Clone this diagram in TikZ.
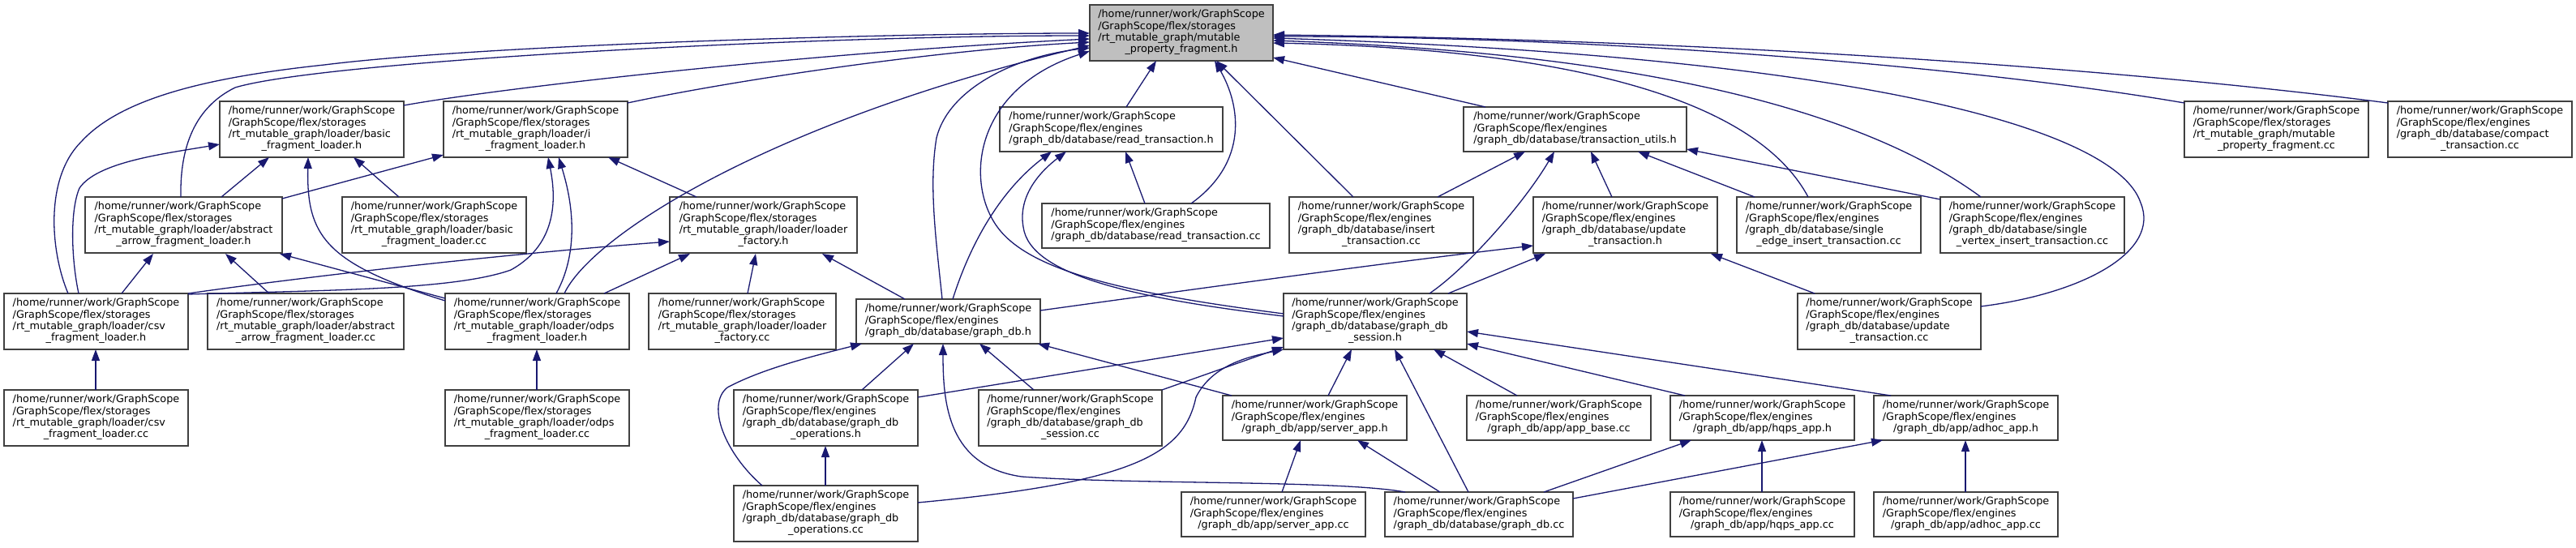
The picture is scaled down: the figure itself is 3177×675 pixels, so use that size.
\documentclass[tikz,border=0pt]{standalone}
\usepackage{fontspec}
\setmainfont{DejaVu Sans}
\usetikzlibrary{arrows.meta,calc}
\definecolor{edgec}{HTML}{191970}
\definecolor{rootc}{HTML}{BFBFBF}
\definecolor{bordc}{HTML}{404040}
\newcommand{\lbl}[2]{\begin{tabular}{@{}l@{}}#1\\\multicolumn{1}{@{}c@{}}{#2}\end{tabular}}
\tikzset{
  box/.style={draw=bordc, line width=1.4pt, fill=white, inner sep=0pt, outer sep=0pt, anchor=north west, minimum height=69pt},
  boxthree/.style={box, minimum height=55pt},
  dep/.style={draw=edgec, line width=1.3pt, -{Triangle[length=14pt,width=10pt]}}
}
\begin{document}
\begin{tikzpicture}[x=1pt,y=-1pt,font=\fontsize{12.8}{14.4}\selectfont]
\fill[white] (0,0) rectangle (3177,675);
\path[use as bounding box] (0,0) rectangle (3177,675);
% ---------- nodes ----------
\node[box, fill=rootc, minimum width=226pt] (root) at (1344,6) {\lbl{/home/runner/work/GraphScope\\/GraphScope/flex/storages\\/rt\_mutable\_graph/mutable}{\_property\_fragment.h}};
\node[box, minimum width=227pt] (basich) at (271,125) {\lbl{/home/runner/work/GraphScope\\/GraphScope/flex/storages\\/rt\_mutable\_graph/loader/basic}{\_fragment\_loader.h}};
\node[box, minimum width=227pt] (ifrag) at (547,125) {\lbl{/home/runner/work/GraphScope\\/GraphScope/flex/storages\\/rt\_mutable\_graph/loader/i}{\_fragment\_loader.h}};
\node[boxthree, minimum width=275pt] (readh) at (1233,132) {\lbl{/home/runner/work/GraphScope\\/GraphScope/flex/engines}{/graph\_db/database/read\_transaction.h}};
\node[boxthree, minimum width=275pt] (tutils) at (1805,132) {\lbl{/home/runner/work/GraphScope\\/GraphScope/flex/engines}{/graph\_db/database/transaction\_utils.h}};
\node[box, minimum width=227pt] (mpfcc) at (2694,125) {\lbl{/home/runner/work/GraphScope\\/GraphScope/flex/storages\\/rt\_mutable\_graph/mutable}{\_property\_fragment.cc}};
\node[box, minimum width=227pt] (compact) at (2945,125) {\lbl{/home/runner/work/GraphScope\\/GraphScope/flex/engines\\/graph\_db/database/compact}{\_transaction.cc}};
\node[box, minimum width=243pt] (absh) at (105,243) {\lbl{/home/runner/work/GraphScope\\/GraphScope/flex/storages\\/rt\_mutable\_graph/loader/abstract}{\_arrow\_fragment\_loader.h}};
\node[box, minimum width=227pt] (basiccc) at (422,243) {\lbl{/home/runner/work/GraphScope\\/GraphScope/flex/storages\\/rt\_mutable\_graph/loader/basic}{\_fragment\_loader.cc}};
\node[box, minimum width=231pt] (lfh) at (826,243) {\lbl{/home/runner/work/GraphScope\\/GraphScope/flex/storages\\/rt\_mutable\_graph/loader/loader}{\_factory.h}};
\node[boxthree, minimum width=281pt] (readcc) at (1285,251) {\lbl{/home/runner/work/GraphScope\\/GraphScope/flex/engines}{/graph\_db/database/read\_transaction.cc}};
\node[box, minimum width=227pt] (insertcc) at (1590,243) {\lbl{/home/runner/work/GraphScope\\/GraphScope/flex/engines\\/graph\_db/database/insert}{\_transaction.cc}};
\node[box, minimum width=227pt] (updh) at (1891,243) {\lbl{/home/runner/work/GraphScope\\/GraphScope/flex/engines\\/graph\_db/database/update}{\_transaction.h}};
\node[box, minimum width=227pt] (sedge) at (2142,243) {\lbl{/home/runner/work/GraphScope\\/GraphScope/flex/engines\\/graph\_db/database/single}{\_edge\_insert\_transaction.cc}};
\node[box, minimum width=227pt] (svertex) at (2393,243) {\lbl{/home/runner/work/GraphScope\\/GraphScope/flex/engines\\/graph\_db/database/single}{\_vertex\_insert\_transaction.cc}};
\node[box, minimum width=227pt] (csvh) at (5,362) {\lbl{/home/runner/work/GraphScope\\/GraphScope/flex/storages\\/rt\_mutable\_graph/loader/csv}{\_fragment\_loader.h}};
\node[box, minimum width=242pt] (abscc) at (256,362) {\lbl{/home/runner/work/GraphScope\\/GraphScope/flex/storages\\/rt\_mutable\_graph/loader/abstract}{\_arrow\_fragment\_loader.cc}};
\node[box, minimum width=227pt] (odpsh) at (549,362) {\lbl{/home/runner/work/GraphScope\\/GraphScope/flex/storages\\/rt\_mutable\_graph/loader/odps}{\_fragment\_loader.h}};
\node[box, minimum width=231pt] (lfcc) at (800,362) {\lbl{/home/runner/work/GraphScope\\/GraphScope/flex/storages\\/rt\_mutable\_graph/loader/loader}{\_factory.cc}};
\node[boxthree, minimum width=227pt] (gdbh) at (1056,369) {\lbl{/home/runner/work/GraphScope\\/GraphScope/flex/engines}{/graph\_db/database/graph\_db.h}};
\node[box, minimum width=226pt] (sessh) at (1583,362) {\lbl{/home/runner/work/GraphScope\\/GraphScope/flex/engines\\/graph\_db/database/graph\_db}{\_session.h}};
\node[box, minimum width=226pt] (updcc) at (2217,362) {\lbl{/home/runner/work/GraphScope\\/GraphScope/flex/engines\\/graph\_db/database/update}{\_transaction.cc}};
\node[box, minimum width=227pt] (csvcc) at (5,481) {\lbl{/home/runner/work/GraphScope\\/GraphScope/flex/storages\\/rt\_mutable\_graph/loader/csv}{\_fragment\_loader.cc}};
\node[box, minimum width=227pt] (odpscc) at (549,481) {\lbl{/home/runner/work/GraphScope\\/GraphScope/flex/storages\\/rt\_mutable\_graph/loader/odps}{\_fragment\_loader.cc}};
\node[box, minimum width=227pt] (opsh) at (905,481) {\lbl{/home/runner/work/GraphScope\\/GraphScope/flex/engines\\/graph\_db/database/graph\_db}{\_operations.h}};
\node[box, minimum width=226pt] (sesscc) at (1207,481) {\lbl{/home/runner/work/GraphScope\\/GraphScope/flex/engines\\/graph\_db/database/graph\_db}{\_session.cc}};
\node[boxthree, minimum width=227pt] (serverh) at (1508,488) {\lbl{/home/runner/work/GraphScope\\/GraphScope/flex/engines}{/graph\_db/app/server\_app.h}};
\node[boxthree, minimum width=227pt] (appbase) at (1809,488) {\lbl{/home/runner/work/GraphScope\\/GraphScope/flex/engines}{/graph\_db/app/app\_base.cc}};
\node[boxthree, minimum width=227pt] (hqpsh) at (2060,488) {\lbl{/home/runner/work/GraphScope\\/GraphScope/flex/engines}{/graph\_db/app/hqps\_app.h}};
\node[boxthree, minimum width=227pt] (adhoch) at (2311,488) {\lbl{/home/runner/work/GraphScope\\/GraphScope/flex/engines}{/graph\_db/app/adhoc\_app.h}};
\node[box, minimum width=227pt] (opscc) at (905,599) {\lbl{/home/runner/work/GraphScope\\/GraphScope/flex/engines\\/graph\_db/database/graph\_db}{\_operations.cc}};
\node[boxthree, minimum width=227pt] (servercc) at (1457,607) {\lbl{/home/runner/work/GraphScope\\/GraphScope/flex/engines}{/graph\_db/app/server\_app.cc}};
\node[boxthree, minimum width=232pt] (gdbcc) at (1708,607) {\lbl{/home/runner/work/GraphScope\\/GraphScope/flex/engines}{/graph\_db/database/graph\_db.cc}};
\node[boxthree, minimum width=227pt] (hqpscc) at (2060,607) {\lbl{/home/runner/work/GraphScope\\/GraphScope/flex/engines}{/graph\_db/app/hqps\_app.cc}};
\node[boxthree, minimum width=227pt] (adhoccc) at (2311,607) {\lbl{/home/runner/work/GraphScope\\/GraphScope/flex/engines}{/graph\_db/app/adhoc\_app.cc}};
% ---------- edges into root (left) ----------
\draw[dep] ($(csvh.north west)+(79,0)$) .. controls (62,310) and (55,220) .. (100,175) .. controls (150,120) and (260,95) .. (400,80) .. controls (600,55) and (1100,41) .. ($(root.north west)+(0,35)$);
\draw[dep] ($(absh.north west)+(118,0)$) .. controls (222,190) and (235,135) .. (290,108) .. controls (400,75) and (1000,44) .. ($(root.north west)+(0,38)$);
\draw[dep] ($(basich.north west)+(227,5)$) .. controls (620,108) and (1000,65) .. ($(root.north west)+(0,42)$);
\draw[dep] ($(ifrag.north west)+(227,2)$) .. controls (900,100) and (1150,62) .. ($(root.north west)+(0,46)$);
\draw[dep] ($(odpsh.north west)+(147,0)$) .. controls (730,290) and (950,150) .. ($(root.north west)+(0,50)$);
\draw[dep] ($(gdbh.north west)+(106,0)$) .. controls (1155,300) and (1145,230) .. (1155,170) .. controls (1170,110) and (1250,70) .. ($(root.north west)+(0,53)$);
\draw[dep] ($(sessh.north west)+(0,25)$) .. controls (1390,362) and (1270,335) .. (1230,280) .. controls (1190,225) and (1200,110) .. ($(root.north west)+(0,57)$);
% ---------- edges into root (bottom) ----------
\draw[dep] ($(readh.north west)+(156,0)$) -- ($(root.north west)+(82,69)$);
\draw[dep] ($(readcc.north west)+(184,0)$) .. controls (1540,200) and (1530,130) .. ($(root.north west)+(154,69)$);
\draw[dep] ($(insertcc.north west)+(79,0)$) -- ($(root.north west)+(156,69)$);
% ---------- edges into root (right) ----------
\draw[dep] ($(tutils.north west)+(27,0)$) -- ($(root.north west)+(226,65)$);
\draw[dep] ($(sedge.north west)+(88,0)$) .. controls (2175,140) and (1990,62) .. ($(root.north west)+(226,47)$);
\draw[dep] ($(svertex.north west)+(50,0)$) .. controls (2330,160) and (2100,68) .. ($(root.north west)+(226,44)$);
\draw[dep] ($(updcc.north west)+(226,16)$) .. controls (2570,362) and (2665,310) .. (2640,250) .. controls (2610,160) and (2300,70) .. ($(root.north west)+(226,41)$);
\draw[dep] ($(mpfcc.north west)+(0,2)$) .. controls (2450,85) and (2000,45) .. ($(root.north west)+(226,39)$);
\draw[dep] ($(compact.north west)+(0,2)$) .. controls (2700,95) and (2200,50) .. ($(root.north west)+(226,37)$);
% ---------- loader edges ----------
\draw[dep] ($(csvh.north west)+(92,0)$) .. controls (88,320) and (86,260) .. (98,232) .. controls (120,200) and (200,190) .. ($(basich.north west)+(0,53)$);
\draw[dep] ($(csvh.north west)+(145,0)$) -- ($(absh.north west)+(84,70)$);
\draw[dep] ($(csvh.north west)+(227,1)$) .. controls (400,358) and (560,358) .. (630,333) .. controls (690,300) and (685,240) .. ($(ifrag.north west)+(129,69)$);
\draw[dep] ($(csvh.north west)+(227,0)$) .. controls (350,345) and (600,315) .. ($(lfh.north west)+(0,55)$);
\draw[dep] ($(csvcc.north west)+(113,0)$) -- ($(csvh.north west)+(113,69)$);
\draw[dep] ($(abscc.north west)+(76,0)$) -- ($(absh.north west)+(173,70)$);
\draw[dep] ($(odpsh.north west)+(0,6)$) -- ($(absh.north west)+(240,70)$);
\draw[dep] ($(odpsh.north west)+(0,9)$) .. controls (400,325) and (378,290) .. ($(basich.north west)+(109,69)$);
\draw[dep] ($(odpsh.north west)+(137,0)$) .. controls (720,300) and (700,230) .. ($(ifrag.north west)+(142,69)$);
\draw[dep] ($(odpsh.north west)+(196,0)$) -- ($(lfh.north west)+(25,70)$);
\draw[dep] ($(odpscc.north west)+(113,0)$) -- ($(odpsh.north west)+(113,69)$);
\draw[dep] ($(basiccc.north west)+(70,0)$) -- ($(basich.north west)+(165,69)$);
\draw[dep] ($(absh.north west)+(168,0)$) -- ($(basich.north west)+(61,69)$);
\draw[dep] ($(absh.north west)+(243,2)$) -- ($(ifrag.north west)+(0,66)$);
\draw[dep] ($(lfh.north west)+(33,0)$) -- ($(ifrag.north west)+(203,69)$);
\draw[dep] ($(lfcc.north west)+(122,0)$) -- ($(lfh.north west)+(106,70)$);
% ---------- engine edges ----------
\draw[dep] ($(gdbh.north west)+(60,0)$) -- ($(lfh.north west)+(188,70)$);
\draw[dep] ($(gdbh.north west)+(119,0)$) .. controls (1200,290) and (1240,230) .. ($(readh.north west)+(64,55)$);
\draw[dep] ($(sessh.north west)+(0,28)$) .. controls (1400,368) and (1270,340) .. (1262,280) .. controls (1255,240) and (1285,210) .. ($(readh.north west)+(82,55)$);
\draw[dep] ($(gdbh.north west)+(227,14)$) .. controls (1450,360) and (1700,325) .. ($(updh.north west)+(0,60)$);
\draw[dep] ($(sessh.north west)+(180,0)$) .. controls (1810,330) and (1880,250) .. ($(tutils.north west)+(112,55)$);
\draw[dep] ($(sessh.north west)+(203,0)$) -- ($(updh.north west)+(15,70)$);
\draw[dep] ($(updh.north west)+(97,0)$) -- ($(tutils.north west)+(157,55)$);
\draw[dep] ($(insertcc.north west)+(183,0)$) -- ($(tutils.north west)+(76,55)$);
\draw[dep] ($(sedge.north west)+(22,0)$) -- ($(tutils.north west)+(215,55)$);
\draw[dep] ($(svertex.north west)+(0,3)$) -- ($(tutils.north west)+(275,52)$);
\draw[dep] ($(updcc.north west)+(21,0)$) -- ($(updh.north west)+(219,70)$);
\draw[dep] ($(readcc.north west)+(127,0)$) -- ($(readh.north west)+(155,55)$);
\draw[dep] ($(opscc.north west)+(35,0)$) .. controls (895,560) and (870,500) .. (897,478) .. controls (940,455) and (1000,440) .. ($(gdbh.north west)+(7,55)$);
\draw[dep] ($(opsh.north west)+(158,0)$) -- ($(gdbh.north west)+(71,55)$);
\draw[dep] ($(gdbcc.north west)+(25,0)$) .. controls (1650,592) and (1400,598) .. (1260,588) .. controls (1170,575) and (1163,500) .. ($(gdbh.north west)+(107,55)$);
\draw[dep] ($(sesscc.north west)+(68,0)$) -- ($(gdbh.north west)+(152,55)$);
\draw[dep] ($(serverh.north west)+(11,0)$) -- ($(gdbh.north west)+(224,55)$);
\draw[dep] ($(opscc.north west)+(113,0)$) -- ($(opsh.north west)+(113,69)$);
\draw[dep] ($(opsh.north west)+(227,9)$) -- ($(sessh.north west)+(0,55)$);
\draw[dep] ($(sesscc.north west)+(226,0)$) -- ($(sessh.north west)+(0,66)$);
\draw[dep] ($(opscc.north west)+(227,21)$) .. controls (1400,595) and (1460,560) .. (1475,490) .. controls (1495,450) and (1540,440) .. ($(sessh.north west)+(0,69)$);
\draw[dep] ($(serverh.north west)+(130,0)$) -- ($(sessh.north west)+(84,69)$);
\draw[dep] ($(gdbcc.north west)+(103,0)$) -- ($(sessh.north west)+(137,69)$);
\draw[dep] ($(appbase.north west)+(62,0)$) -- ($(sessh.north west)+(185,69)$);
\draw[dep] ($(hqpsh.north west)+(18,0)$) -- ($(sessh.north west)+(226,62)$);
\draw[dep] ($(adhoch.north west)+(21,0)$) -- ($(sessh.north west)+(226,47)$);
\draw[dep] ($(servercc.north west)+(124,0)$) -- ($(serverh.north west)+(96,55)$);
\draw[dep] ($(gdbcc.north west)+(68,0)$) -- ($(serverh.north west)+(166,55)$);
\draw[dep] ($(gdbcc.north west)+(196,0)$) -- ($(hqpsh.north west)+(26,55)$);
\draw[dep] ($(hqpscc.north west)+(113,0)$) -- ($(hqpsh.north west)+(113,55)$);
\draw[dep] ($(gdbcc.north west)+(232,8)$) -- ($(adhoch.north west)+(11,55)$);
\draw[dep] ($(adhoccc.north west)+(113,0)$) -- ($(adhoch.north west)+(113,55)$);
\end{tikzpicture}
\end{document}
